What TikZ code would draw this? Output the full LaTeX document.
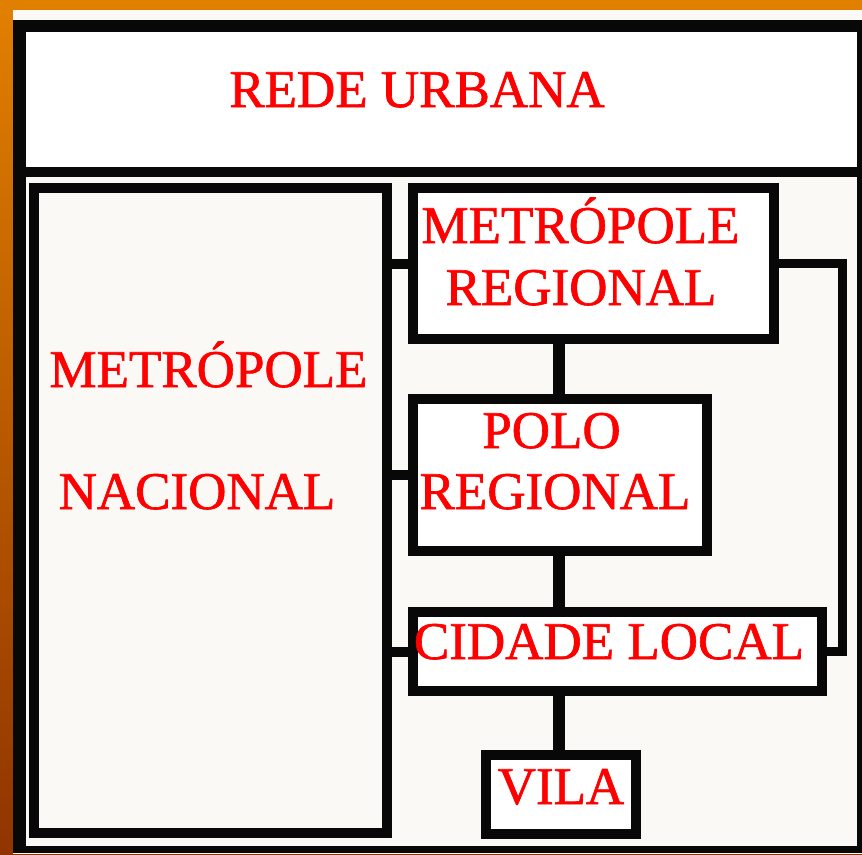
\documentclass[tikz,border=0pt]{standalone}
\usepackage{fontspec}
\setmainfont{Liberation Serif}
\newfontfamily\redfont[FakeBold=1.2]{Liberation Serif}
\definecolor{txtred}{RGB}{255,0,0}
\definecolor{panel}{RGB}{250,249,246}
\definecolor{orangetop}{RGB}{225,128,0}
\definecolor{orangebot}{RGB}{145,52,0}
\definecolor{ink}{RGB}{8,8,8}
\begin{document}
\begin{tikzpicture}[x=1pt,y=-1pt,
  box/.style={draw=ink,line width=10pt,fill=white,inner sep=0pt,rectangle},
  lbl/.style={text=txtred,font=\redfont\fontsize{53}{60}\selectfont,anchor=base,inner sep=0pt},
  link/.style={draw=ink,line width=10pt}]
\useasboundingbox (0,0) rectangle (862,854);
% background and frame
\shade[top color=orangetop,bottom color=orangebot] (0,0) rectangle (862,854);
\fill[panel] (13,10) rectangle (862,854);
\fill[ink] (13,20) rectangle (862,853);
\fill[panel] (26,32) rectangle (857,846);
\fill[white] (26,32) rectangle (857,167);
\fill[ink] (26,167) rectangle (857,177);
% boxes
\node[box,fill=panel,minimum width=353pt,minimum height=645pt] (nac) at (210.5,510.5) {};
\node[box,minimum width=361pt,minimum height=151pt] (mreg) at (593.5,263.5) {};
\node[box,minimum width=294pt,minimum height=152pt] (polo) at (560,475) {};
\node[box,minimum width=409pt,minimum height=79pt] (cid) at (617.5,651.5) {};
\node[box,minimum width=150pt,minimum height=79pt] (vila) at (561,794.5) {};
% guide coordinates
\coordinate (spine) at (558.5,0);
\coordinate (rail) at (842.5,0);
% connectors
\draw[link] (nac.east |- mreg.west) -- (mreg.west);
\draw[link] (nac.east |- polo.west) -- (polo.west);
\draw[link] (nac.east |- cid.west) -- (cid.west);
\draw[link,line width=12pt] (mreg.south -| spine) -- (polo.north -| spine);
\draw[link,line width=12pt] (polo.south -| spine) -- (cid.north -| spine);
\draw[link,line width=12pt] (cid.south -| spine) -- (vila.north -| spine);
\draw[link,line width=9pt] (mreg.east) -- (mreg.east -| rail) |- (cid.east);
% texts
\node[lbl] (title) at (417,107) {REDE URBANA};
\node[lbl] (nac1) at (208.5,387) {METRÓPOLE};
\node[lbl] (nac2) at (197,509) {NACIONAL};
\node[lbl] (mreg1) at (580.5,243) {METRÓPOLE};
\node[lbl] (mreg2) at (581,305) {REGIONAL};
\node[lbl] (polo1) at (551.5,448) {POLO};
\node[lbl] (polo2) at (555,509) {REGIONAL};
\node[lbl] (cid1) at (609,659) {CIDADE LOCAL};
\node[lbl] (vila1) at (561,804) {VILA};
\end{tikzpicture}
\end{document}
